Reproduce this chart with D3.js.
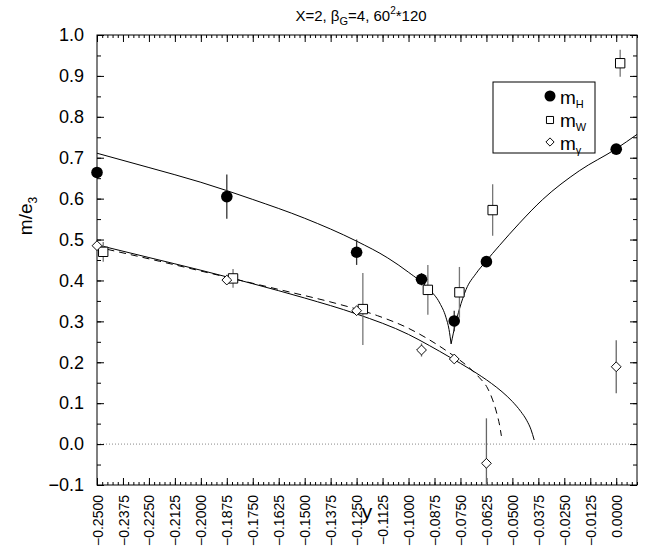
<!DOCTYPE html>
<html>
<head>
<meta charset="utf-8" />
<style>
body {
	margin: 0;
	background: #fff;
	font-family: "Liberation Sans", Arial, Helvetica;
}
svg {
	display: block;
}
.tick line {
	stroke: #000;
}
.fit {
	fill: none;
	stroke: #000;
	stroke-width: 1;
}
.fit-dash {
	stroke-dasharray: 7,5;
}
.zero-line {
	stroke: #888;
	stroke-dasharray: 1,2;
}
</style>
</head>
<body>
<script src="https://d3js.org/d3.v7.min.js"></script>
<script>
// lattice points (y) and masses
var yH = [-0.25, -0.1875, -0.125, -0.09375, -0.078, -0.0625, 0.0];
var mH = [0.664, 0.605, 0.469, 0.403, 0.301, 0.446, 0.721];
var errH = [0.004, 0.054, 0.031, 0.015, 0.025, 0.004, 0.004];

var yW = [-0.247, -0.1845, -0.122, -0.0907, -0.0755, -0.0595, 0.0019];
var mW = [0.470, 0.405, 0.330, 0.377, 0.371, 0.572, 0.931];
var errW = [0.024, 0.023, 0.088, 0.061, 0.062, 0.063, 0.033];

var yG = [-0.25, -0.1875, -0.125, -0.09375, -0.078, -0.0625, 0.0];
var mG = [0.485, 0.401, 0.326, 0.230, 0.208, -0.047, 0.189];
var errG = [0.005, 0.008, 0.004, 0.016, 0.004, 0.11, 0.065];

// fit curves, points
var fitH1x = [-0.25, -0.225, -0.2, -0.175, -0.15, -0.125, -0.11, -0.1, -0.09, -0.085, -0.082, -0.0805, -0.0795];
var fitH1y = [0.711, 0.676, 0.640, 0.598, 0.552, 0.496, 0.455, 0.420, 0.378, 0.345, 0.310, 0.280, 0.245];
var fitH2x = [-0.0795, -0.0775, -0.0755, -0.0723, -0.0675, -0.0627, -0.0563, -0.0466, -0.0354, -0.0178, 0.0, 0.01];
var fitH2y = [0.245, 0.292, 0.330, 0.378, 0.417, 0.447, 0.485, 0.540, 0.598, 0.668, 0.722, 0.757];
var fitGx = [-0.25, -0.225, -0.2, -0.175, -0.15, -0.125, -0.1, -0.09, -0.08, -0.07, -0.06, -0.055, -0.05, -0.046, -0.043, -0.041, -0.0395];
var fitGy = [0.487, 0.456, 0.425, 0.392, 0.357, 0.318, 0.268, 0.241, 0.212, 0.182, 0.148, 0.128, 0.104, 0.080, 0.057, 0.035, 0.010];
var fitDx = [-0.245, -0.22, -0.19, -0.16, -0.135, -0.115, -0.1, -0.09, -0.08, -0.072, -0.066, -0.062, -0.0595, -0.0575, -0.056, -0.0553];
var fitDy = [0.476, 0.447, 0.411, 0.375, 0.344, 0.314, 0.283, 0.255, 0.222, 0.192, 0.163, 0.137, 0.108, 0.075, 0.042, 0.020];

var xTicks = [-0.25, -0.2375, -0.225, -0.2125, -0.2, -0.1875, -0.175, -0.1625, -0.15, -0.1375,
	-0.125, -0.1125, -0.1, -0.0875, -0.075, -0.0625, -0.05, -0.0375, -0.025, -0.0125, 0.0];
var yTicks = [-0.1, 0.0, 0.1, 0.2, 0.3, 0.4, 0.5, 0.6, 0.7, 0.8, 0.9, 1.0];

var width = 646,
    height = 553,
    plotLeft = 97,
    plotRight = 637,
    plotTop = 35,
    plotBottom = 485;

var x = d3.scaleLinear().domain([-0.25, 0.01]).range([plotLeft, plotRight]);
var y = d3.scaleLinear().domain([-0.1, 1.0]).range([plotBottom, plotTop]);

var svg = d3.select("body").append("svg")
	.attr("width", width)
	.attr("height", height);

svg.append("clipPath")
	.attr("id", "plot-clip")
	.append("rect")
		.attr("x", plotLeft)
		.attr("y", plotTop)
		.attr("width", plotRight - plotLeft)
		.attr("height", plotBottom - plotTop);

// zero line
svg.append("line")
	.attr("class", "zero-line")
	.attr("x1", plotLeft)
	.attr("x2", plotRight)
	.attr("y1", y(0))
	.attr("y2", y(0));

// axes, ticks pointing inward
var xMinor = d3.range(-0.25, 0.0101, 0.0025);
var yMinor = d3.range(-0.1, 1.001, 0.05);

function noDomain(g) {
	g.select(".domain").remove();
}

svg.append("g")
	.attr("transform", "translate(0," + plotBottom + ")")
	.call(d3.axisBottom(x).tickValues(xMinor).tickSize(-3).tickFormat(""))
	.call(noDomain);
svg.append("g")
	.attr("transform", "translate(0," + plotTop + ")")
	.call(d3.axisTop(x).tickValues(xMinor).tickSize(-3).tickFormat(""))
	.call(noDomain);
svg.append("g")
	.attr("transform", "translate(0," + plotTop + ")")
	.call(d3.axisTop(x).tickValues(xTicks).tickSize(-7).tickFormat(""))
	.call(noDomain);

var xAxis = svg.append("g")
	.attr("transform", "translate(0," + plotBottom + ")")
	.call(d3.axisBottom(x).tickValues(xTicks).tickSize(-7).tickFormat(d3.format(".4f")))
	.call(noDomain);

xAxis.selectAll("text")
	.attr("transform", "rotate(-90)")
	.attr("x", -10)
	.attr("y", 0)
	.attr("dy", "0.36em")
	.attr("fill", "#000")
	.style("text-anchor", "end")
	.style("font-size", "14px")
	.style("font-family", "Liberation Sans, Arial");

svg.append("g")
	.attr("transform", "translate(" + plotLeft + ",0)")
	.call(d3.axisLeft(y).tickValues(yMinor).tickSize(-4).tickFormat(""))
	.call(noDomain);
svg.append("g")
	.attr("transform", "translate(" + plotRight + ",0)")
	.call(d3.axisRight(y).tickValues(yMinor).tickSize(-4).tickFormat(""))
	.call(noDomain);
svg.append("g")
	.attr("transform", "translate(" + plotRight + ",0)")
	.call(d3.axisRight(y).tickValues(yTicks).tickSize(-7).tickFormat(""))
	.call(noDomain);

var yAxis = svg.append("g")
	.attr("transform", "translate(" + plotLeft + ",0)")
	.call(d3.axisLeft(y).tickValues(yTicks).tickSize(-7).tickPadding(13).tickFormat(d3.format(".1f")))
	.call(noDomain);

yAxis.selectAll("text")
	.attr("fill", "#000")
	.style("font-size", "18px")
	.style("font-family", "Liberation Sans, Arial");

// frame
svg.append("rect")
	.attr("x", plotLeft)
	.attr("y", plotTop)
	.attr("width", plotRight - plotLeft)
	.attr("height", plotBottom - plotTop)
	.attr("fill", "none")
	.attr("stroke", "#000");

// fit curves
var plot = svg.append("g").attr("clip-path", "url(#plot-clip)");

function curve(xs, ys) {
	return d3.line()
		.x(function(d) { return x(d); })
		.y(function(d, i) { return y(ys[i]); })
		.curve(d3.curveMonotoneX)(xs);
}

plot.append("path").attr("class", "fit").attr("d", curve(fitH1x, fitH1y));
plot.append("path").attr("class", "fit").attr("d", curve(fitH2x, fitH2y));
plot.append("path").attr("class", "fit").attr("d", curve(fitGx, fitGy));
plot.append("path").attr("class", "fit fit-dash").attr("d", curve(fitDx, fitDy));

// error bars
function errorBars(xs, ms, es, colour) {
	for (var i = 0; i < xs.length; i++) {
		plot.append("line")
			.attr("x1", x(xs[i]))
			.attr("x2", x(xs[i]))
			.attr("y1", y(ms[i] - es[i]))
			.attr("y2", y(ms[i] + es[i]))
			.attr("stroke", colour)
			.attr("stroke-width", 1.3);
	}
}

errorBars(yW, mW, errW, "#777");
errorBars(yG, mG, errG, "#666");
errorBars(yH, mH, errH, "#333");

// markers
var squareSym = d3.symbol().type(d3.symbolSquare).size(88);
var diamondSym = d3.symbol().type(d3.symbolSquare).size(48);
var i;

for (i = 0; i < yW.length; i++) {
	svg.append("path")
		.attr("d", squareSym())
		.attr("transform", "translate(" + x(yW[i]) + "," + y(mW[i]) + ")")
		.attr("fill", "#fff")
		.attr("stroke", "#000");
}

for (i = 0; i < yG.length; i++) {
	svg.append("path")
		.attr("d", diamondSym())
		.attr("transform", "translate(" + x(yG[i]) + "," + y(mG[i]) + ") rotate(45)")
		.attr("fill", "#fff")
		.attr("stroke", "#000")
		.attr("stroke-width", 0.9);
}

for (i = 0; i < yH.length; i++) {
	svg.append("circle")
		.attr("cx", x(yH[i]))
		.attr("cy", y(mH[i]))
		.attr("r", 5.8)
		.attr("fill", "#000");
}

// legend
var legend = svg.append("g");
legend.append("rect")
	.attr("x", 493)
	.attr("y", 82)
	.attr("width", 102)
	.attr("height", 71)
	.attr("fill", "#fff")
	.attr("stroke", "#000");

legend.append("circle").attr("cx", 550).attr("cy", 96).attr("r", 5.5).attr("fill", "#000");
legend.append("path").attr("d", d3.symbol().type(d3.symbolSquare).size(50)())
	.attr("transform", "translate(550,120)")
	.attr("fill", "#fff").attr("stroke", "#000");
legend.append("path").attr("d", d3.symbol().type(d3.symbolSquare).size(34)())
	.attr("transform", "translate(550,142) rotate(45)")
	.attr("fill", "#fff").attr("stroke", "#000").attr("stroke-width", 0.9);

var legendNames = ["H", "W", "\u03b3"];
for (i = 0; i < legendNames.length; i++) {
	var t = legend.append("text")
		.attr("x", 560)
		.attr("y", 104 + i * 23)
		.style("font-size", "19px")
		.text("m");
	t.append("tspan")
		.attr("dy", 4)
		.style("font-size", "11px")
		.text(legendNames[i]);
}

// title
var title = svg.append("text")
	.attr("x", 361)
	.attr("y", 21)
	.style("font-size", "15px")
	.style("text-anchor", "middle");
title.append("tspan").text("X=2, \u03b2");
title.append("tspan").attr("dy", 4).style("font-size", "11px").text("G");
title.append("tspan").attr("dy", -4).text("=4, 60");
title.append("tspan").attr("dy", -7).style("font-size", "10px").text("2");
title.append("tspan").attr("dy", 7).text("*120");

// axis labels
var yLabel = svg.append("text")
	.attr("transform", "translate(32,216) rotate(-90)")
	.style("font-size", "19px")
	.style("text-anchor", "middle");
yLabel.append("tspan").text("m/e");
yLabel.append("tspan").attr("dy", 5).style("font-size", "12px").text("3");

svg.append("text")
	.attr("x", 367)
	.attr("y", 519)
	.style("font-size", "21px")
	.style("text-anchor", "middle")
	.text("y");
</script>
</body>
</html>
